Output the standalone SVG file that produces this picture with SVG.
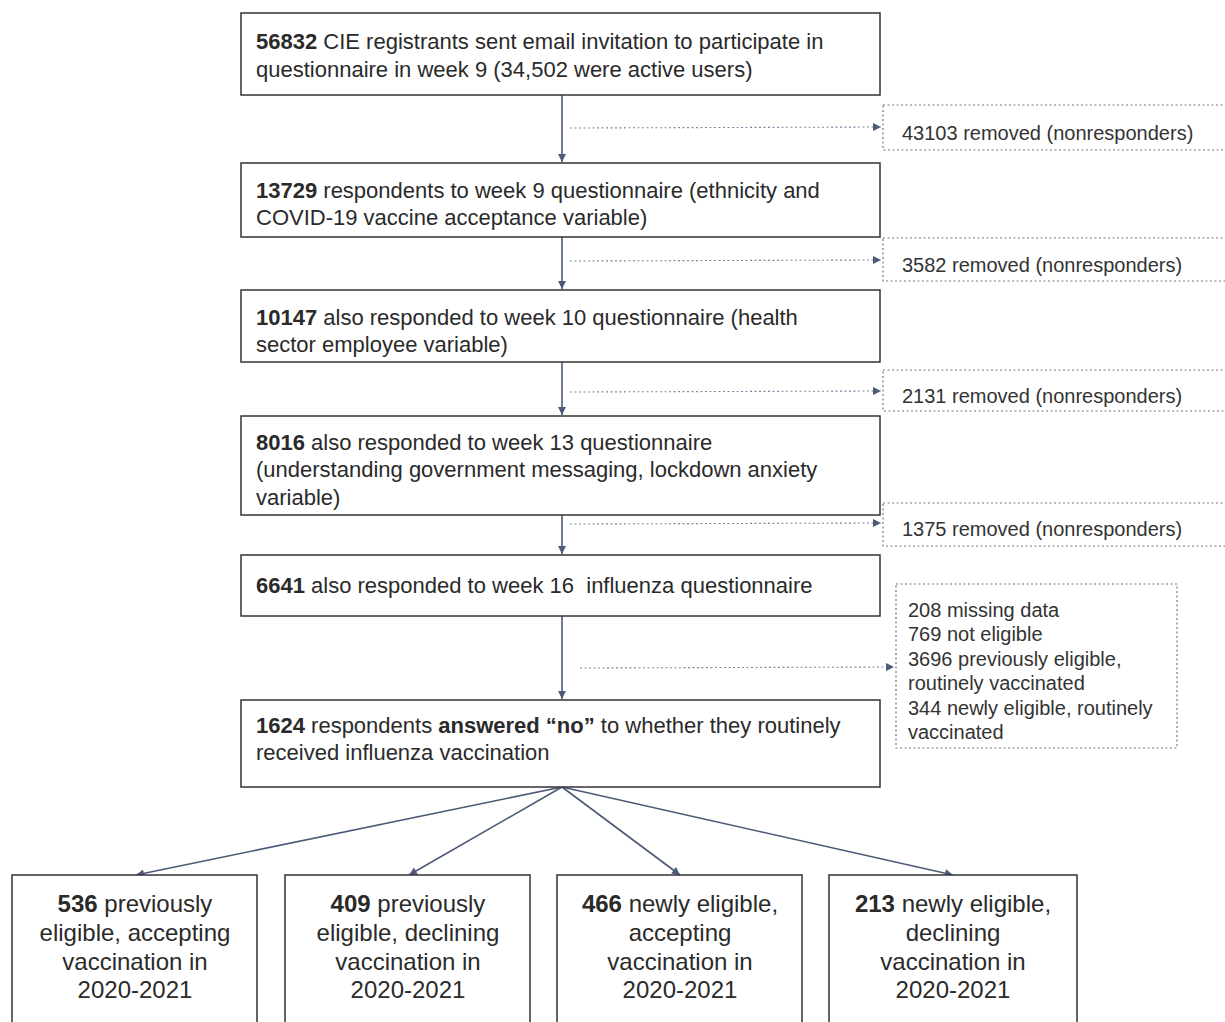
<svg xmlns="http://www.w3.org/2000/svg" width="1225" height="1022" viewBox="0 0 1225 1022">
<defs>
<marker id="ah" viewBox="0 0 10 10" refX="10" refY="5" markerWidth="9" markerHeight="8" markerUnits="userSpaceOnUse" orient="auto">
<path d="M0,0 L10,5 L0,10 z" fill="#4b5a76"/>
</marker>
<style>
.box{fill:#fff;stroke:#333;stroke-width:1.5}
.dbox{fill:none;stroke:#777;stroke-width:1.2;stroke-dasharray:2,2.5}
.t{font-family:"Liberation Sans",Arial,sans-serif;font-size:22px;fill:#2a2a2a}
.s{font-family:"Liberation Sans",Arial,sans-serif;font-size:20px;fill:#333}
.b{font-family:"Liberation Sans",Arial,sans-serif;font-size:24px;fill:#2a2a2a;text-anchor:middle}
.bold{font-weight:bold}
.con{stroke:#4b5a76;stroke-width:1.6;fill:none;marker-end:url(#ah)}
.dcon{stroke:#7a88a0;stroke-width:1.1;fill:none;stroke-dasharray:2,2.5;marker-end:url(#ah)}
</style>
</defs>
<rect width="1225" height="1022" fill="#fff"/>

<g id="connectors">
<line class="con" x1="562" y1="95" x2="562" y2="162"/>
<line class="con" x1="562" y1="237" x2="562" y2="289"/>
<line class="con" x1="562" y1="362" x2="562" y2="415"/>
<line class="con" x1="562" y1="515" x2="562" y2="554"/>
<line class="con" x1="562" y1="616" x2="562" y2="699"/>
<line class="dcon" x1="570" y1="128" x2="881" y2="127"/>
<line class="dcon" x1="570" y1="261" x2="881" y2="260"/>
<line class="dcon" x1="570" y1="392" x2="881" y2="391"/>
<line class="dcon" x1="570" y1="524" x2="881" y2="523"/>
<line class="dcon" x1="580" y1="668" x2="894" y2="667"/>
<line class="con" x1="562" y1="787" x2="136" y2="875"/>
<line class="con" x1="562" y1="787" x2="409" y2="875"/>
<line class="con" x1="562" y1="787" x2="680" y2="875"/>
<line class="con" x1="562" y1="787" x2="953" y2="875"/>
</g>

<g id="n1">
<rect class="box" x="241" y="13" width="639" height="82"/>
<text class="t" x="256" y="49"><tspan class="bold">56832</tspan> CIE registrants sent email invitation to participate in</text>
<text class="t" x="256" y="77">questionnaire in week 9 (34,502 were active users)</text>
</g>

<g id="r1">
<rect class="dbox" x="883" y="105" width="350" height="45"/>
<text class="s" x="902" y="140">43103 removed (nonresponders)</text>
</g>

<g id="n2">
<rect class="box" x="241" y="163" width="639" height="74"/>
<text class="t" x="256" y="198"><tspan class="bold">13729</tspan> respondents to week 9 questionnaire (ethnicity and</text>
<text class="t" x="256" y="225">COVID-19 vaccine acceptance variable)</text>
</g>

<g id="r2">
<rect class="dbox" x="883" y="238" width="350" height="43"/>
<text class="s" x="902" y="272">3582 removed (nonresponders)</text>
</g>

<g id="n3">
<rect class="box" x="241" y="290" width="639" height="72"/>
<text class="t" x="256" y="325"><tspan class="bold">10147</tspan> also responded to week 10 questionnaire (health</text>
<text class="t" x="256" y="352">sector employee variable)</text>
</g>

<g id="r3">
<rect class="dbox" x="883" y="370" width="350" height="41"/>
<text class="s" x="902" y="403">2131 removed (nonresponders)</text>
</g>

<g id="n4">
<rect class="box" x="241" y="416" width="639" height="99"/>
<text class="t" x="256" y="450"><tspan class="bold">8016</tspan> also responded to week 13 questionnaire</text>
<text class="t" x="256" y="477">(understanding government messaging, lockdown anxiety</text>
<text class="t" x="256" y="505">variable)</text>
</g>

<g id="r4">
<rect class="dbox" x="883" y="503" width="350" height="43"/>
<text class="s" x="902" y="536">1375 removed (nonresponders)</text>
</g>

<g id="n5">
<rect class="box" x="241" y="555" width="639" height="61"/>
<text class="t" x="256" y="593"><tspan class="bold">6641</tspan> also responded to week 16&#160; influenza questionnaire</text>
</g>

<g id="r5">
<rect class="dbox" x="896" y="584" width="281" height="164"/>
<text class="s" x="908" y="617">208 missing data</text>
<text class="s" x="908" y="641">769 not eligible</text>
<text class="s" x="908" y="666">3696 previously eligible,</text>
<text class="s" x="908" y="690">routinely vaccinated</text>
<text class="s" x="908" y="715">344 newly eligible, routinely</text>
<text class="s" x="908" y="739">vaccinated</text>
</g>

<g id="n6">
<rect class="box" x="241" y="700" width="639" height="87"/>
<text class="t" x="256" y="733"><tspan class="bold">1624</tspan> respondents <tspan class="bold">answered “no”</tspan> to whether they routinely</text>
<text class="t" x="256" y="760">received influenza vaccination</text>
</g>

<g id="a">
<rect class="box" x="12" y="875" width="245" height="160"/>
<text class="b" x="135" y="912"><tspan class="bold">536</tspan> previously</text>
<text class="b" x="135" y="941">eligible, accepting</text>
<text class="b" x="135" y="970">vaccination in</text>
<text class="b" x="135" y="998">2020-2021</text>
</g>

<g id="b">
<rect class="box" x="285" y="875" width="245" height="160"/>
<text class="b" x="408" y="912"><tspan class="bold">409</tspan> previously</text>
<text class="b" x="408" y="941">eligible, declining</text>
<text class="b" x="408" y="970">vaccination in</text>
<text class="b" x="408" y="998">2020-2021</text>
</g>

<g id="c">
<rect class="box" x="557" y="875" width="245" height="160"/>
<text class="b" x="680" y="912"><tspan class="bold">466</tspan> newly eligible,</text>
<text class="b" x="680" y="941">accepting</text>
<text class="b" x="680" y="970">vaccination in</text>
<text class="b" x="680" y="998">2020-2021</text>
</g>

<g id="d">
<rect class="box" x="829" y="875" width="248" height="160"/>
<text class="b" x="953" y="912"><tspan class="bold">213</tspan> newly eligible,</text>
<text class="b" x="953" y="941">declining</text>
<text class="b" x="953" y="970">vaccination in</text>
<text class="b" x="953" y="998">2020-2021</text>
</g>
</svg>
